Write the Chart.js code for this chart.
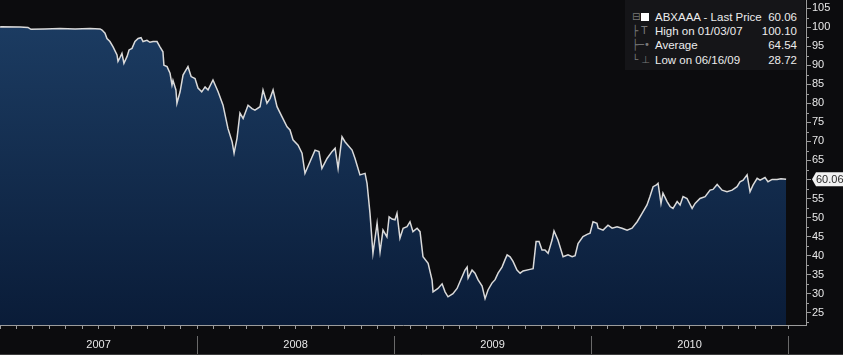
<!DOCTYPE html>
<html>
<head>
<meta charset="utf-8">
<script src="https://cdn.jsdelivr.net/npm/chart.js@4.4.1/dist/chart.umd.min.js"></script>
<style>
html, body { margin: 0; padding: 0; background: #0c0c0e; }
#wrap { position: relative; width: 843px; height: 355px; }
#legend {
  position: absolute; left: 625px; top: 0; width: 180px; height: 70px;
  background: #151518; font-family: "Liberation Sans", Arial, sans-serif;
  font-size: 11.5px; color: #ececec;
}
#legend .row { position: absolute; left: 0; width: 180px; height: 14px; line-height: 14px; }
#legend .ic { position: absolute; left: 7px; width: 22px; color: #7a7a7a; font-family: "DejaVu Sans", sans-serif; font-size: 10px; }
#legend .lab { position: absolute; left: 30px; }
#legend .val { position: absolute; right: 8px; }
#legend .sq { display: inline-block; width: 8px; height: 8px; background: #fff; margin-left: 1px; vertical-align: -1px; }
</style>
</head>
<body>
<div id="wrap">
  <canvas id="chart" width="843" height="355"></canvas>
  <div id="legend"></div>
</div>
<script>
// ABX AAA index, last price (x = decimal year)
const dates = [
  2007.000, 2007.008, 2007.102, 2007.142, 2007.157, 2007.228, 2007.305, 2007.381, 2007.457, 2007.508,
  2007.518, 2007.533, 2007.543, 2007.558, 2007.574, 2007.594, 2007.599, 2007.609, 2007.619, 2007.629,
  2007.645, 2007.655, 2007.670, 2007.685, 2007.701, 2007.716, 2007.726, 2007.746, 2007.761, 2007.777,
  2007.797, 2007.812, 2007.827, 2007.832, 2007.848, 2007.863, 2007.873, 2007.878, 2007.893, 2007.898,
  2007.914, 2007.929, 2007.939, 2007.954, 2007.970, 2007.990, 2008.005, 2008.024, 2008.041, 2008.056,
  2008.081, 2008.107, 2008.132, 2008.157, 2008.178, 2008.188, 2008.203, 2008.218, 2008.234, 2008.259,
  2008.279, 2008.294, 2008.320, 2008.335, 2008.355, 2008.371, 2008.386, 2008.406, 2008.431, 2008.457,
  2008.472, 2008.487, 2008.513, 2008.533, 2008.548, 2008.574, 2008.599, 2008.619, 2008.634, 2008.660,
  2008.685, 2008.701, 2008.716, 2008.736, 2008.751, 2008.766, 2008.787, 2008.802, 2008.827, 2008.853,
  2008.863, 2008.878, 2008.893, 2008.914, 2008.929, 2008.944, 2008.964, 2008.975, 2008.990, 2009.005,
  2009.015, 2009.030, 2009.046, 2009.066, 2009.081, 2009.096, 2009.117, 2009.132, 2009.147, 2009.173,
  2009.193, 2009.198, 2009.223, 2009.244, 2009.259, 2009.274, 2009.299, 2009.320, 2009.335, 2009.360,
  2009.371, 2009.376, 2009.396, 2009.411, 2009.426, 2009.447, 2009.462, 2009.477, 2009.497, 2009.513,
  2009.528, 2009.548, 2009.563, 2009.574, 2009.589, 2009.604, 2009.624, 2009.640, 2009.655, 2009.690,
  2009.706, 2009.721, 2009.736, 2009.751, 2009.766, 2009.782, 2009.802, 2009.812, 2009.832, 2009.858,
  2009.883, 2009.904, 2009.919, 2009.934, 2009.959, 2009.980, 2009.995, 2010.010, 2010.030, 2010.036,
  2010.061, 2010.086, 2010.107, 2010.132, 2010.157, 2010.183, 2010.208, 2010.234, 2010.259, 2010.284,
  2010.299, 2010.315, 2010.330, 2010.340, 2010.355, 2010.365, 2010.386, 2010.401, 2010.416, 2010.437,
  2010.452, 2010.467, 2010.487, 2010.513, 2010.528, 2010.553, 2010.579, 2010.604, 2010.619, 2010.640,
  2010.665, 2010.690, 2010.716, 2010.741, 2010.756, 2010.772, 2010.792, 2010.807, 2010.822, 2010.843,
  2010.858, 2010.883, 2010.898, 2010.919, 2010.944, 2010.964, 2010.990
];
const prices = [
  100.0, 100.1, 100.0, 99.9, 99.4, 99.5, 99.6, 99.5, 99.6, 99.5,
  99.2, 98.4, 97.0, 96.2, 94.8, 92.7, 91.0, 92.0, 93.1, 90.5,
  92.3, 94.0, 94.4, 96.2, 97.0, 97.2, 96.2, 96.5, 96.0, 96.2,
  96.2, 94.8, 93.5, 90.0, 89.6, 87.9, 84.8, 86.0, 83.5, 80.0,
  83.0, 87.4, 88.3, 89.6, 87.0, 86.5, 84.0, 83.0, 84.3, 83.5,
  86.1, 83.0, 79.5, 73.4, 69.9, 66.9, 70.8, 77.4, 76.0, 79.5,
  78.6, 78.2, 79.1, 83.5, 80.0, 81.3, 83.5, 79.1, 76.5, 73.8,
  73.0, 70.4, 69.0, 66.9, 61.6, 64.7, 67.7, 67.3, 62.9, 65.5,
  67.3, 68.2, 62.9, 71.2, 69.9, 69.0, 67.7, 65.5, 61.2, 61.6,
  59.0, 51.1, 40.6, 48.5, 41.0, 46.7, 44.9, 50.2, 49.6, 49.4,
  51.1, 44.6, 47.2, 47.6, 48.9, 46.3, 47.2, 46.3, 39.7, 38.0,
  33.6, 30.5, 31.4, 32.6, 30.5, 29.2, 30.0, 31.4, 33.2, 36.2,
  37.0, 34.1, 36.2, 35.4, 33.7, 32.0, 28.72, 31.0, 32.8, 33.7,
  35.4, 37.0, 38.9, 40.2, 39.7, 38.5, 36.2, 35.4, 36.0, 36.4,
  36.6, 43.7, 43.7, 41.5, 41.5, 40.6, 44.1, 46.5, 44.1, 39.7,
  40.2, 39.7, 40.0, 43.2, 45.0, 45.6, 45.9, 48.9, 48.5, 47.2,
  46.7, 48.0, 47.2, 47.6, 47.2, 46.7, 47.2, 48.9, 51.1, 53.3,
  55.5, 58.1, 58.5, 59.0, 53.7, 56.4, 54.2, 52.9, 52.4, 54.2,
  53.3, 55.5, 55.0, 52.4, 53.7, 55.0, 55.5, 57.2, 57.4, 58.7,
  57.2, 56.8, 57.2, 58.1, 59.4, 59.8, 61.2, 56.8, 58.5, 60.3,
  59.8, 60.5, 59.4, 60.0, 60.0, 60.2, 60.06
];
const years = [2007, 2008, 2009, 2010];
const yTicks = [25, 30, 35, 40, 45, 50, 55, 60, 65, 70, 75, 80, 85, 90, 95, 100, 105];
const legendLabels = ['ABXAAA - Last Price', 'High on 01/03/07', 'Average', 'Low on 06/16/09'];
const legendValues = ['60.06', '100.10', '64.54', '28.72'];
const legendIcons = ['\u229f<span class="sq"></span>', '\u251c T', '\u251c\u2500\u2022', '\u2514 \u22a5'];

// legend box
const legendEl = document.getElementById('legend');
legendLabels.forEach((lab, i) => {
  const row = document.createElement('div');
  row.className = 'row';
  row.style.top = (10 + i * 14.2) + 'px';
  row.innerHTML = '<span class="ic">' + legendIcons[i] + '</span><span class="lab">' + lab +
    '</span><span class="val">' + legendValues[i] + '</span>';
  legendEl.appendChild(row);
});

const axisGray = '#9c9c9c';
const lastPrice = prices[prices.length - 1];

const extras = {
  id: 'extras',
  afterDraw(chart) {
    const c = chart.ctx;
    const xs = chart.scales.x, ys = chart.scales.y;
    c.save();
    // year separators in the date band
    c.strokeStyle = '#6a6a6a';
    c.lineWidth = 1;
    years.concat([2011]).forEach(yr => {
      if (yr === 2007) return;
      const px = Math.round(xs.getPixelForValue(yr)) + 0.5;
      c.beginPath(); c.moveTo(px, 336); c.lineTo(px, 355); c.stroke();
    });
    c.strokeStyle = '#3c3c3c';
    c.beginPath(); c.moveTo(0, 354.5); c.lineTo(843, 354.5); c.stroke();
    // minor ticks on the price axis
    c.strokeStyle = axisGray;
    for (let v = 22.5; v <= 105; v += 5) {
      const py = Math.round(ys.getPixelForValue(v)) + 0.5;
      c.beginPath(); c.moveTo(ys.left, py); c.lineTo(ys.left + 3, py); c.stroke();
    }
    // last price badge
    const py = ys.getPixelForValue(lastPrice);
    const bx = ys.left + 6;
    c.fillStyle = '#f2f2f2';
    c.beginPath();
    c.moveTo(bx, py);
    c.lineTo(bx + 4, py - 7);
    c.lineTo(843, py - 7);
    c.lineTo(843, py + 7);
    c.lineTo(bx + 4, py + 7);
    c.closePath();
    c.fill();
    c.fillStyle = '#2a2a2a';
    c.font = '11px "Liberation Sans", Arial, sans-serif';
    c.textBaseline = 'middle';
    c.fillText(lastPrice.toFixed(2), bx + 4, py + 0.5);
    c.restore();
  }
};

const ctx = document.getElementById('chart').getContext('2d');
new Chart(ctx, {
  type: 'line',
  data: {
    datasets: [{
      data: dates.map((d, i) => ({ x: d, y: prices[i] })),
      borderColor: '#dadada',
      borderWidth: 1.5,
      pointRadius: 0,
      tension: 0,
      fill: 'start',
      backgroundColor: function (context) {
        const area = context.chart.chartArea;
        if (!area) return '#13304f';
        const g = context.chart.ctx.createLinearGradient(0, area.top, 0, area.bottom);
        g.addColorStop(0, '#1d3e65');
        g.addColorStop(1, '#0a1c38');
        return g;
      }
    }]
  },
  options: {
    responsive: false,
    animation: false,
    layout: { padding: 0 },
    plugins: { legend: { display: false }, tooltip: { enabled: false } },
    scales: {
      x: {
        type: 'linear',
        min: 2007,
        max: 2011.091,
        afterBuildTicks: s => {
          const t = [];
          years.forEach(yr => { for (let m = 0; m < 12; m++) t.push({ value: yr + m / 12 }); });
          t.push({ value: 2011 });
          s.ticks = t;
        },
        afterFit: s => { s.height = 30; s.paddingLeft = 0; s.paddingRight = 0; },
        grid: { drawOnChartArea: false, color: axisGray, tickLength: 4 },
        border: { color: axisGray },
        ticks: {
          autoSkip: false, maxRotation: 0, padding: 9,
          color: '#e8e8e8',
          font: { family: '"Liberation Sans", Arial, sans-serif', size: 11 },
          callback: v => (Math.abs(v - Math.floor(v) - 0.5) < 1e-6 ? String(Math.floor(v)) : '')
        }
      },
      y: {
        position: 'right',
        min: 21.8,
        max: 107.1,
        afterBuildTicks: s => { s.ticks = yTicks.map(v => ({ value: v })); },
        afterFit: s => { s.width = 37; s.paddingTop = 0; s.paddingBottom = 0; },
        grid: { drawOnChartArea: false, color: axisGray, tickLength: 5 },
        border: { color: axisGray },
        ticks: {
          padding: 1,
          color: '#e8e8e8',
          font: { family: '"Liberation Sans", Arial, sans-serif', size: 11 },
          callback: v => (v === 60 ? '' : String(v))
        }
      }
    }
  },
  plugins: [extras]
});
</script>
</body>
</html>
